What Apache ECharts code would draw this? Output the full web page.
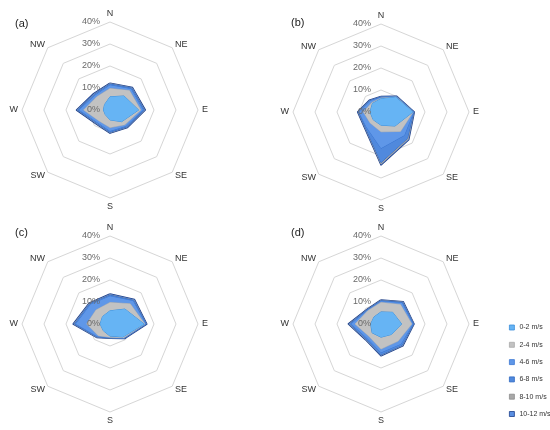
<!DOCTYPE html>
<html><head><meta charset="utf-8">
<script src="https://cdn.jsdelivr.net/npm/echarts@6/dist/echarts.min.js"></script>
<style>html,body{margin:0;padding:0;background:#fff}#c{width:550px;height:430px}</style>
</head><body><div id="c"></div>
<script>
// Directions listed clockwise from North
const directions = ['N', 'NE', 'E', 'SE', 'S', 'SW', 'W', 'NW'];
const speedClasses = ['0-2 m/s', '2-4 m/s', '4-6 m/s', '6-8 m/s', '8-10 m/s', '10-12 m/s'];
const radialTicks = [0, 10, 20, 30, 40];
const panelLabels = ['(a)', '(b)', '(c)', '(d)'];

// Cumulative frequency (%) per direction (N, NE, E, SE, S, SW, W, NW)
const a_0_2   = [6.0, 9.0, 13.0, 7.5, 4.5, 3.0, 3.0, 3.5];
const a_2_4   = [9.8, 12.5, 14.0, 9.5, 8.0, 7.0, 12.0, 8.5];
const a_4_6   = [11.3, 13.5, 15.0, 10.3, 9.6, 8.0, 14.0, 9.5];
const a_6_8   = [11.8, 14.0, 15.5, 10.8, 10.1, 8.5, 14.6, 10.0];
const a_8_10  = [12.0, 14.2, 15.7, 11.0, 10.3, 8.7, 14.8, 10.2];
const a_10_12 = [12.2, 14.4, 16.0, 11.2, 10.5, 8.9, 15.2, 10.5];

const b_0_2   = [6.0, 9.5, 14.5, 9.0, 6.0, 5.0, 5.0, 5.5];
const b_2_4   = [6.3, 9.7, 14.6, 12.5, 9.0, 7.0, 8.0, 6.0];
const b_4_6   = [6.6, 9.8, 14.8, 15.0, 16.5, 9.5, 10.0, 7.0];
const b_6_8   = [6.8, 9.9, 14.9, 17.0, 23.0, 10.0, 10.2, 7.2];
const b_8_10  = [6.9, 10.0, 15.0, 17.5, 23.7, 10.2, 10.4, 7.3];
const b_10_12 = [7.0, 10.1, 15.1, 17.8, 24.0, 10.4, 10.6, 7.5];

const c_0_2   = [6.0, 9.6, 15.5, 8.3, 5.5, 4.3, 4.5, 4.8];
const c_2_4   = [9.8, 13.0, 15.8, 8.8, 6.0, 7.5, 10.6, 9.0];
const c_4_6   = [12.6, 14.8, 16.2, 9.0, 6.2, 8.0, 15.5, 12.5];
const c_6_8   = [13.1, 15.2, 16.4, 9.1, 6.3, 8.3, 16.1, 13.0];
const c_8_10  = [13.3, 15.4, 16.5, 9.2, 6.4, 8.5, 16.4, 13.2];
const c_10_12 = [13.6, 15.7, 16.7, 9.3, 6.5, 8.6, 16.7, 13.4];

const d_0_2   = [5.5, 7.5, 9.4, 6.7, 6.0, 5.7, 4.7, 4.5];
const d_2_4   = [9.8, 12.5, 14.0, 11.0, 11.4, 7.8, 11.8, 8.5];
const d_4_6   = [10.3, 13.5, 14.5, 12.8, 13.0, 9.0, 13.5, 8.8];
const d_6_8   = [10.6, 13.9, 14.8, 13.6, 14.0, 9.6, 14.3, 9.0];
const d_8_10  = [10.8, 14.1, 14.9, 13.8, 14.2, 9.8, 14.6, 9.1];
const d_10_12 = [10.9, 14.3, 15.0, 14.0, 14.4, 10.0, 14.8, 9.2];

const panels = [
  [a_0_2, a_2_4, a_4_6, a_6_8, a_8_10, a_10_12],
  [b_0_2, b_2_4, b_4_6, b_6_8, b_8_10, b_10_12],
  [c_0_2, c_2_4, c_4_6, c_6_8, c_8_10, c_10_12],
  [d_0_2, d_2_4, d_4_6, d_6_8, d_8_10, d_10_12]
];

const fills = ['#66B4F4', '#C2C2C2', '#5F97E8', '#5089DD', '#A8A8A8', '#5A8FE2'];
const lines = ['#3A8EDB', '#A9A9A9', '#3B76D2', '#2F68C2', '#8C8C8C', '#1C3F8C'];
const lineWidths = [1, 0.8, 1, 1, 0.8, 1.6];

const centers = [[110, 110], [381, 112], [110, 324], [381, 324]];
const titlePos = [[10, 13], [286, 12], [10, 222], [286, 222]];

// ECharts radar goes counter-clockwise; reorder so the rose reads clockwise
const order = [0, 7, 6, 5, 4, 3, 2, 1];
const maxVal = radialTicks[radialTicks.length - 1];
const font = 'Liberation Sans, Arial, sans-serif';

function makeRadar(c, overlay) {
  return {
    center: c,
    radius: 88,
    startAngle: 90,
    shape: 'polygon',
    z: overlay ? 10 : 1,
    splitNumber: radialTicks.length - 1,
    nameGap: 4,
    axisName: { show: !overlay, color: '#333', fontSize: 9, fontFamily: font },
    axisLine: { show: false },
    axisTick: { show: false },
    splitArea: { show: false },
    splitLine: { show: !overlay, lineStyle: { color: '#D6D6D6', width: 1 } },
    axisLabel: { show: false },
    indicator: order.map((i, j) => {
      const ind = { name: directions[i], min: 0, max: maxVal };
      if (overlay && j === 0) {
        ind.axisLabel = {
          show: true, color: '#6A6A6A', fontSize: 9, margin: 10,
          fontFamily: font,
          formatter: v => v + '%'
        };
      }
      return ind;
    })
  };
}

const radars = centers.map(c => makeRadar(c, false)).concat(centers.map(c => makeRadar(c, true)));

const series = [];
panels.forEach((bands, p) => {
  for (let k = bands.length - 1; k >= 0; k--) {
    series.push({
      type: 'radar',
      radarIndex: p,
      name: speedClasses[k],
      symbol: 'none',
      silent: true,
      z: 2,
      itemStyle: { color: fills[k], borderColor: lines[k] },
      lineStyle: { color: lines[k], width: lineWidths[k] },
      areaStyle: { color: fills[k], opacity: 1 },
      data: [{ value: order.map(i => bands[k][i]) }]
    });
  }
});

const chart = echarts.init(document.getElementById('c'));
chart.setOption({
  animation: false,
  backgroundColor: '#fff',
  title: panelLabels.map((t, i) => ({
    text: t, left: titlePos[i][0], top: titlePos[i][1],
    textStyle: { fontSize: 11, fontWeight: 'normal', color: '#222', fontFamily: font }
  })),
  legend: {
    orient: 'vertical',
    left: 509,
    top: 324,
    padding: 0,
    itemWidth: 5,
    itemHeight: 5,
    itemGap: 10.3,
    icon: 'rect',
    textStyle: { fontSize: 7, color: '#333', fontFamily: font },
    data: speedClasses.map((n, k) => ({
      name: n,
      itemStyle: { color: fills[k], borderColor: lines[k], borderWidth: 0.8 }
    }))
  },
  radar: radars,
  series: series
});
</script>
</body></html>
